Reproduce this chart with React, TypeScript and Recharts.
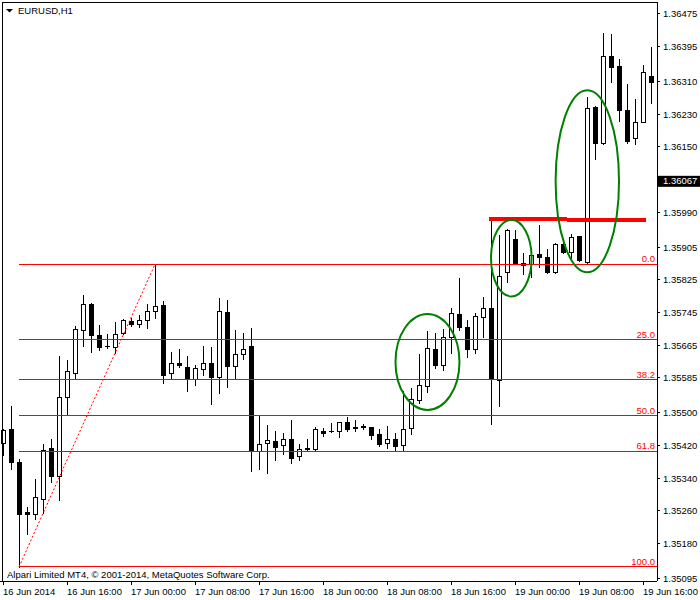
import React from 'react';
import { ComposedChart, Bar, XAxis, YAxis, ReferenceLine, ReferenceDot } from 'recharts';

// ---- data (EURUSD H1, bar 0 = 16 Jun 2014 08:00) ----
const opens = [
  1.35426, 1.35460, 1.35379, 1.35257, 1.35253, 1.35290, 1.35414, 1.35346, 1.35538, 1.35597,
  1.35702, 1.35766, 1.35689, 1.35664, 1.35660, 1.35696, 1.35724, 1.35716, 1.35726, 1.35748,
  1.35763, 1.35596, 1.35622, 1.35612, 1.35582, 1.35606, 1.35622, 1.35588, 1.35746, 1.35615,
  1.35643, 1.35663, 1.35407, 1.35425, 1.35430, 1.35420, 1.35435, 1.35393, 1.35412, 1.35412,
  1.35455, 1.35454, 1.35455, 1.35477, 1.35465, 1.35466, 1.35465, 1.35448, 1.35425, 1.35435,
  1.35420, 1.35462, 1.35530, 1.35565, 1.35655, 1.35617, 1.35684, 1.35741, 1.35709, 1.35655,
  1.35733, 1.35755, 1.35580, 1.35843, 1.35924, 1.35867, 1.35864, 1.35888, 1.35880, 1.35843,
  1.35912, 1.35894, 1.35932, 1.35869, 1.36248, 1.36159, 1.36372, 1.36348, 1.36240, 1.36171,
  1.36212, 1.36323,
];
const highs = [
  1.35460, 1.35517, 1.35387, 1.35269, 1.35338, 1.35423, 1.35436, 1.35639, 1.35629, 1.35712,
  1.35788, 1.35768, 1.35714, 1.35692, 1.35722, 1.35728, 1.35731, 1.35739, 1.35766, 1.35863,
  1.35773, 1.35648, 1.35656, 1.35639, 1.35617, 1.35662, 1.35661, 1.35780, 1.35776, 1.35701,
  1.35695, 1.35707, 1.35492, 1.35470, 1.35455, 1.35450, 1.35482, 1.35423, 1.35436, 1.35466,
  1.35463, 1.35474, 1.35478, 1.35489, 1.35482, 1.35472, 1.35466, 1.35459, 1.35467, 1.35450,
  1.35554, 1.35560, 1.35644, 1.35700, 1.35694, 1.35704, 1.35756, 1.35829, 1.35726, 1.35743,
  1.35782, 1.35979, 1.35935, 1.35949, 1.35946, 1.35890, 1.35887, 1.35959, 1.35900, 1.35914,
  1.35914, 1.35937, 1.35933, 1.36271, 1.36250, 1.36428, 1.36426, 1.36365, 1.36304, 1.36267,
  1.36350, 1.36395,
];
const lows = [
  1.35397, 1.35362, 1.35123, 1.35203, 1.35241, 1.35255, 1.35331, 1.35287, 1.35494, 1.35582,
  1.35664, 1.35649, 1.35654, 1.35659, 1.35646, 1.35692, 1.35713, 1.35710, 1.35708, 1.35732,
  1.35573, 1.35586, 1.35612, 1.35554, 1.35568, 1.35592, 1.35522, 1.35549, 1.35564, 1.35586,
  1.35632, 1.35358, 1.35362, 1.35353, 1.35384, 1.35400, 1.35376, 1.35385, 1.35407, 1.35407,
  1.35444, 1.35452, 1.35441, 1.35454, 1.35454, 1.35459, 1.35435, 1.35419, 1.35414, 1.35406,
  1.35407, 1.35447, 1.35523, 1.35551, 1.35610, 1.35605, 1.35647, 1.35702, 1.35637, 1.35647,
  1.35686, 1.35472, 1.35517, 1.35819, 1.35865, 1.35839, 1.35833, 1.35857, 1.35841, 1.35841,
  1.35890, 1.35878, 1.35872, 1.35866, 1.36120, 1.36158, 1.36309, 1.36214, 1.36160, 1.36157,
  1.36211, 1.36257,
];
const closes = [
  1.35458, 1.35380, 1.35253, 1.35253, 1.35294, 1.35409, 1.35346, 1.35538, 1.35602, 1.35705,
  1.35766, 1.35689, 1.35661, 1.35662, 1.35692, 1.35727, 1.35716, 1.35726, 1.35748, 1.35760,
  1.35593, 1.35621, 1.35616, 1.35582, 1.35609, 1.35621, 1.35588, 1.35749, 1.35615, 1.35643,
  1.35655, 1.35406, 1.35423, 1.35432, 1.35415, 1.35435, 1.35390, 1.35410, 1.35414, 1.35459,
  1.35451, 1.35455, 1.35477, 1.35461, 1.35462, 1.35467, 1.35446, 1.35424, 1.35436, 1.35419,
  1.35459, 1.35533, 1.35567, 1.35657, 1.35617, 1.35684, 1.35743, 1.35709, 1.35655, 1.35737,
  1.35755, 1.35582, 1.35835, 1.35946, 1.35867, 1.35860, 1.35886, 1.35880, 1.35843, 1.35912,
  1.35894, 1.35930, 1.35873, 1.36244, 1.36160, 1.36372, 1.36346, 1.36239, 1.36165, 1.36212,
  1.36332, 1.36309,
];

const xTickIndex = [0, 8, 16, 24, 32, 40, 48, 56, 64, 72, 80];
const xTickLabels = [
  '16 Jun 2014', '16 Jun 16:00', '17 Jun 00:00', '17 Jun 08:00', '17 Jun 16:00',
  '18 Jun 00:00', '18 Jun 08:00', '18 Jun 16:00', '19 Jun 00:00', '19 Jun 08:00', '19 Jun 16:00',
];
const yTicks = [
  1.35095, 1.3518, 1.3526, 1.3534, 1.3542, 1.355, 1.35585, 1.35665, 1.35745, 1.35825,
  1.35905, 1.3599, 1.36067, 1.3615, 1.3623, 1.3631, 1.36395, 1.36475,
];
const currentPrice = 1.36067;

// Fibonacci retracement anchored on bar 2 low and bar 19 high
const fibLowIndex = 2;
const fibHighIndex = 19;
const fibRatios = [0, 0.25, 0.382, 0.5, 0.618, 1];
const fibLabels = ['0.0', '25.0', '38.2', '50.0', '61.8', '100.0'];

// thick red horizontal trend lines
const trendStart = [60.75, 70.5];
const trendEnd = [70.5, 80.4];
const trendPrice = [1.35974, 1.3597];

// green ellipses: centre (bar index, price)
const ellipseIndex = [53.06, 63.54, 73.04];
const ellipsePrice = [1.35624, 1.35878, 1.36066];

const data = opens.map((o, i) => ({ i, open: o, high: highs[i], low: lows[i], close: closes[i] }));

const fibHigh = highs[fibHighIndex];
const fibLow = lows[fibLowIndex];
const fibLevels = fibRatios.map((r) => fibHigh - r * (fibHigh - fibLow));

// ---- styling ----
const FONT = '"Liberation Sans", Arial, sans-serif';
const FS = 9.5;
const ellipseRx = [32, 20.3, 31.7];
const ellipseRy = [48, 38.3, 91];

const Candle = (props: any) => {
  const { x, y, width, height } = props;
  const d = props.payload;
  if (d == null || x == null || y == null || height == null) return null;
  const cx = Math.round(x + width / 2);
  const k = d.high === d.low ? 0 : height / (d.high - d.low);
  const top = y + (d.high - Math.max(d.open, d.close)) * k;
  const bot = y + (d.high - Math.min(d.open, d.close)) * k;
  const bull = d.close >= d.open;
  const yt = Math.round(top) + 0.5;
  const yb = Math.round(bot) + 0.5;
  return (
    <g shapeRendering="crispEdges">
      <line x1={cx + 0.5} x2={cx + 0.5} y1={Math.round(y)} y2={Math.round(y + height) + 1} stroke="#000" strokeWidth={1} />
      {yb - yt < 1 ? (
        <line x1={cx - 2} x2={cx + 3} y1={yt} y2={yt} stroke="#000" strokeWidth={1} />
      ) : (
        <rect
          x={cx - 1.5}
          y={yt}
          width={4}
          height={yb - yt}
          fill={bull ? '#fff' : '#000'}
          stroke="#000"
          strokeWidth={1}
        />
      )}
    </g>
  );
};

const XTick = (props: any) => {
  const { x, y, payload } = props;
  const idx = xTickIndex.indexOf(payload.value);
  return (
    <text x={x} y={y} dy={8} textAnchor="start" fontSize={FS} fontFamily={FONT} fill="#000">
      {idx >= 0 ? xTickLabels[idx] : ''}
    </text>
  );
};

const YTick = (props: any) => {
  const { x, y, payload } = props;
  const v = Number(payload.value);
  const label = v.toFixed(5);
  if (Math.abs(v - currentPrice) < 1e-7) {
    return (
      <g>
        <rect x={x - 4} y={y - 5} width={42} height={11} fill="#000" />
        <text x={x + 1} y={y} dy={3.5} textAnchor="start" fontSize={FS} fontFamily={FONT} fill="#fff">
          {label}
        </text>
      </g>
    );
  }
  return (
    <text x={x + 1} y={y} dy={3.5} textAnchor="start" fontSize={FS} fontFamily={FONT} fill="#000">
      {label}
    </text>
  );
};

export default function App() {
  return (
    <div style={{ position: 'absolute', left: -1, top: 0, width: 701, height: 600, background: '#fff' }}>
      <ComposedChart width={701} height={600} data={data} margin={{ top: 2, right: 0, bottom: 0, left: 0 }}>
        <XAxis
          dataKey="i"
          type="number"
          domain={[-0.5, 81.75]}
          allowDataOverflow
          ticks={xTickIndex}
          interval={0}
          tickSize={4}
          height={19}
          axisLine={{ stroke: '#000', shapeRendering: 'crispEdges' }}
          tickLine={{ stroke: '#000', shapeRendering: 'crispEdges' }}
          tick={<XTick />}
        />
        <YAxis
          orientation="right"
          type="number"
          domain={[1.350884, 1.365043]}
          allowDataOverflow
          ticks={yTicks}
          interval={0}
          tickSize={3}
          width={43}
          axisLine={{ stroke: '#000', shapeRendering: 'crispEdges' }}
          tickLine={{ stroke: '#000', shapeRendering: 'crispEdges' }}
          tick={<YTick />}
        />
        {fibLevels.map((lv, k) => (
          <ReferenceLine
            key={'fib' + k}
            segment={[
              { x: fibLowIndex, y: lv },
              { x: 81.75, y: lv },
            ]}
            stroke="#ff0000"
            strokeWidth={1}
            shapeRendering="crispEdges"
            ifOverflow="visible"
            label={{
              value: fibLabels[k],
              position: 'insideBottomRight',
              offset: 2,
              fill: '#ff0000',
              fontSize: FS,
              fontFamily: FONT,
            }}
          />
        ))}
        <ReferenceLine
          segment={[
            { x: fibLowIndex, y: fibLow },
            { x: fibHighIndex, y: fibHigh },
          ]}
          stroke="#ff0000"
          strokeWidth={1}
          strokeDasharray="2 2"
          ifOverflow="visible"
        />
        <Bar dataKey={(d: any) => [d.low, d.high]} barSize={6} shape={<Candle />} isAnimationActive={false} />
        {trendPrice.map((p, k) => (
          <ReferenceLine
            key={'tr' + k}
            segment={[
              { x: trendStart[k], y: p },
              { x: trendEnd[k], y: p },
            ]}
            stroke="#ff0000"
            strokeWidth={4}
            shapeRendering="crispEdges"
            ifOverflow="visible"
          />
        ))}
        {ellipseIndex.map((ix, k) => (
          <ReferenceDot
            key={'el' + k}
            x={ix}
            y={ellipsePrice[k]}
            r={1}
            ifOverflow="visible"
            shape={(p: any) => (
              <ellipse
                cx={p.cx}
                cy={p.cy}
                rx={ellipseRx[k]}
                ry={ellipseRy[k]}
                fill="none"
                stroke="#008000"
                strokeWidth={2}
              />
            )}
          />
        ))}
      </ComposedChart>
      <svg width={701} height={600} style={{ position: 'absolute', left: 0, top: 0, pointerEvents: 'none' }}>
        <g transform="translate(1,0)">
          <line x1={2} x2={657} y1={2.5} y2={2.5} stroke="#000" shapeRendering="crispEdges" />
          <line x1={2.5} x2={2.5} y1={2} y2={581} stroke="#000" shapeRendering="crispEdges" />
          <polygon points="6,9 13,9 9.5,12.5" fill="#000" />
          <text x={18} y={14} fontSize={FS} fontFamily={FONT} fill="#000">EURUSD,H1</text>
          <text x={7} y={578} fontSize={FS} fontFamily={FONT} fill="#000">
            Alpari Limited MT4, © 2001-2014, MetaQuotes Software Corp.
          </text>
        </g>
      </svg>
    </div>
  );
}
